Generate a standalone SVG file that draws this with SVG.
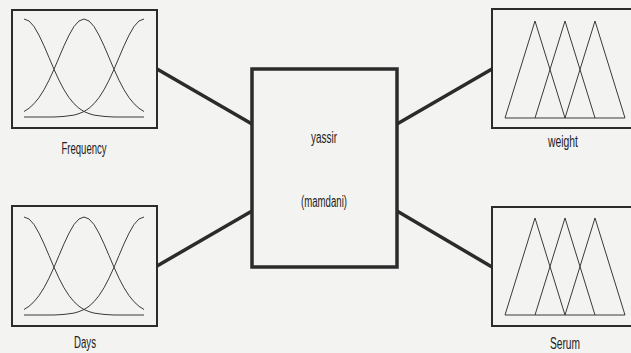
<svg xmlns="http://www.w3.org/2000/svg" xmlns:xlink="http://www.w3.org/1999/xlink" width="631" height="353" viewBox="0 0 631 353">
<style>
.box{fill:none;stroke:#2b2b2b;stroke-width:2}
.cbox{fill:none;stroke:#2b2b2b;stroke-width:3.5}
.mf{fill:none;stroke:#3a3a3a;stroke-width:1;stroke-linejoin:round}
.conn{stroke:#2b2b2b;stroke-width:3.5;stroke-linecap:butt}
.lbl{font-family:"Liberation Sans",Arial,sans-serif;font-size:16px;fill:#222;text-anchor:middle}
</style>
<defs>
<g id="gauss">
<path class="mf" d="M0,0 L5,1.96 L10,7.5 L15,16.2 L20,26.8 L25,38.5 L30,50.3 L35,61.2 L40,70.8 L45,78.6 L50,84.7 L55,89.3 L60,92.5 L65,94.6 L70,96.1 L80,97.4 L90,98 L120,98"/>
<path class="mf" d="M0,92.5 L5,89.3 L10,84.7 L15,78.6 L20,70.8 L25,61.2 L30,50.3 L35,38.5 L40,26.8 L45,16.2 L50,7.5 L55,1.96 L60,0 L65,1.96 L70,7.5 L75,16.2 L80,26.8 L85,38.5 L90,50.3 L95,61.2 L100,70.8 L105,78.6 L110,84.7 L115,89.3 L120,92.5"/>
<path class="mf" d="M0,98 L30,98 L40,97.4 L50,96.1 L55,94.6 L60,92.5 L65,89.3 L70,84.7 L75,78.6 L80,70.8 L85,61.2 L90,50.3 L95,38.5 L100,26.8 L105,16.2 L110,7.5 L115,1.96 L120,0"/>
</g>
<g id="tri">
<path class="mf" d="M0,97 L30,0 L60,97 M30,97 L60,0 L90,97 M60,97 L90,0 L120,97 M0,97 L120,97"/>
</g>
</defs>
<rect width="631" height="353" fill="#f3f3f1"/>
<g id="connectors">
<line class="conn" x1="157" y1="69" x2="252" y2="124"/>
<line class="conn" x1="157" y1="266" x2="252" y2="211"/>
<line class="conn" x1="397" y1="124" x2="492" y2="69"/>
<line class="conn" x1="397" y1="211" x2="492" y2="267"/>
</g>
<g id="frequency">
<rect class="box" x="12" y="10" width="145" height="118"/>
<use xlink:href="#gauss" transform="translate(24,19)"/>
<text class="lbl" x="84" y="154" textLength="45" lengthAdjust="spacingAndGlyphs">Frequency</text>
</g>
<g id="days">
<rect class="box" x="12" y="206" width="145" height="120"/>
<use xlink:href="#gauss" transform="translate(24,217)"/>
<text class="lbl" x="85" y="348" textLength="22" lengthAdjust="spacingAndGlyphs">Days</text>
</g>
<g id="yassir">
<rect class="cbox" x="252" y="69" width="145" height="198"/>
<text class="lbl" x="324" y="143" textLength="26" lengthAdjust="spacingAndGlyphs">yassir</text>
<text class="lbl" x="324" y="207" textLength="46" lengthAdjust="spacingAndGlyphs">(mamdani)</text>
</g>
<g id="weight">
<rect class="box" x="492" y="9" width="150" height="119"/>
<use xlink:href="#tri" transform="translate(505,21)"/>
<text class="lbl" x="563" y="147" textLength="30" lengthAdjust="spacingAndGlyphs">weight</text>
</g>
<g id="serum">
<rect class="box" x="492" y="207" width="150" height="119"/>
<use xlink:href="#tri" transform="translate(505,218)"/>
<text class="lbl" x="565" y="349" textLength="30" lengthAdjust="spacingAndGlyphs">Serum</text>
</g>
</svg>
